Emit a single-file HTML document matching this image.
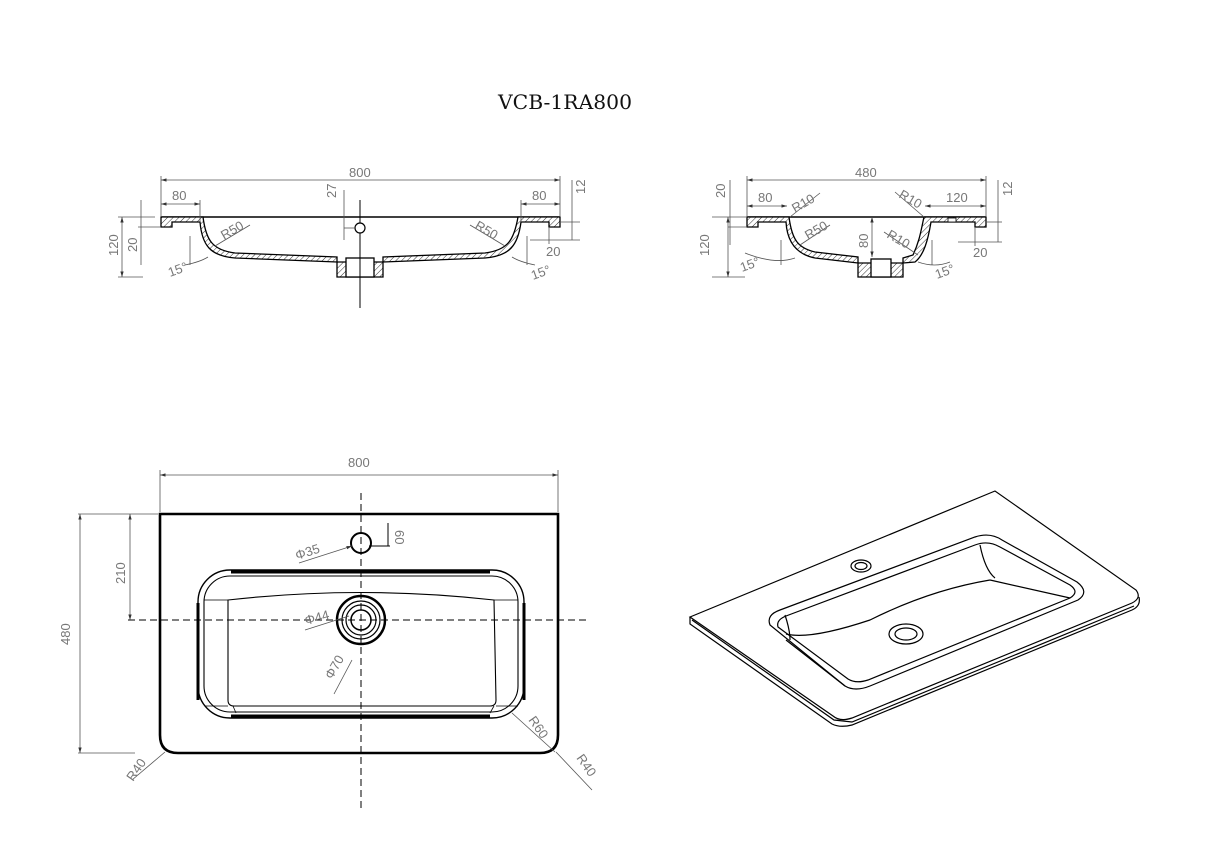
<!DOCTYPE html>
<html><head><meta charset="utf-8"><style>
html,body{margin:0;padding:0;background:#fff;}
svg{display:block;}
.t{font-family:"Liberation Sans",sans-serif;font-size:13px;fill:#777;}
.d{stroke:#555;stroke-width:0.8;fill:none;}
.k{stroke:#000;fill:none;}
</style></head><body>
<svg width="1207" height="859" viewBox="0 0 1207 859" xmlns="http://www.w3.org/2000/svg">
<defs>
<pattern id="h" width="4" height="4" patternUnits="userSpaceOnUse" patternTransform="rotate(45)">
<rect width="4" height="4" fill="#fff"/><line x1="0" y1="0" x2="0" y2="4" stroke="#333" stroke-width="1"/></pattern>
<marker id="a" viewBox="0 0 10 10" refX="10" refY="5" markerWidth="7" markerHeight="7" orient="auto-start-reverse"><path d="M0,2 L10,5 L0,8z" fill="#333"/></marker>
</defs>
<text x="498" y="109" font-family="DejaVu Serif,Liberation Serif,serif" font-size="20" fill="#111" textLength="134" lengthAdjust="spacingAndGlyphs">VCB-1RA800</text>

<!-- Section 1 -->
<g>
<line class="k" x1="161" y1="217" x2="560" y2="217" stroke-width="1.5"/>
<path d="M161,217 L203,217 C206,240 212,250 235,253 L337,257 L337,277 L383,277 L383,257 L485,253 C508,250 514,240 518,217 L560,217 L560,227 L549,227 L549,222 L521,222 C518,245 510,256 485,258 L383,262 L337,262 L235,258 C210,256 202,245 200,222 L172,222 L172,227 L161,227 Z" fill="url(#h)" stroke="#000" stroke-width="1.3"/>
<rect x="346" y="258" width="28" height="19" fill="#fff" stroke="#000" stroke-width="1.3"/>
<line class="k" x1="360" y1="200" x2="360" y2="308"/>
<circle cx="360" cy="228" r="5" fill="#fff" stroke="#000" stroke-width="1.2"/>
<line class="d" x1="161" y1="180" x2="560" y2="180" marker-start="url(#a)" marker-end="url(#a)"/>
<line class="d" x1="161" y1="176" x2="161" y2="217"/><line class="d" x1="560" y1="176" x2="560" y2="217"/>
<text class="t" x="349" y="177">800</text>
<line class="d" x1="161" y1="204" x2="200" y2="204" marker-start="url(#a)" marker-end="url(#a)"/>
<line class="d" x1="200" y1="200" x2="200" y2="222"/>
<text class="t" x="172" y="200">80</text>
<line class="d" x1="521" y1="204" x2="560" y2="204" marker-start="url(#a)" marker-end="url(#a)"/>
<line class="d" x1="521" y1="200" x2="521" y2="222"/>
<text class="t" x="532" y="200">80</text>
<line class="d" x1="344" y1="190" x2="344" y2="240"/><line class="d" x1="344" y1="228" x2="355" y2="228"/>
<text class="t" transform="translate(336,198) rotate(-90)">27</text>
<line class="d" x1="122" y1="217" x2="122" y2="277" marker-start="url(#a)" marker-end="url(#a)"/>
<line class="d" x1="118" y1="217" x2="155" y2="217"/><line class="d" x1="118" y1="277" x2="143" y2="277"/>
<text class="t" transform="translate(118,256) rotate(-90)">120</text>
<line class="d" x1="141" y1="200" x2="141" y2="265"/><line class="d" x1="138" y1="227" x2="161" y2="227"/>
<text class="t" transform="translate(137,252) rotate(-90)">20</text>
<line class="d" x1="572" y1="180" x2="572" y2="240"/><line class="d" x1="560" y1="222" x2="580" y2="222"/>
<text class="t" transform="translate(585,194) rotate(-90)">12</text>
<line class="d" x1="530" y1="240" x2="580" y2="240"/><line class="d" x1="549" y1="227" x2="549" y2="244"/>
<text class="t" x="546" y="256">20</text>
<line class="d" x1="215" y1="246" x2="250" y2="225"/><text class="t" transform="translate(224,240) rotate(-30)">R50</text>
<line class="d" x1="505" y1="246" x2="470" y2="225"/><text class="t" transform="translate(474,228) rotate(30)">R50</text>
<line class="d" x1="190" y1="236" x2="190" y2="265"/><path class="d" d="M185,265 Q200,262 208,257"/>
<text class="t" transform="translate(170,277) rotate(-20)">15°</text>
<line class="d" x1="527" y1="236" x2="527" y2="265"/><path class="d" d="M535,265 Q520,262 512,257"/>
<text class="t" transform="translate(533,280) rotate(-20)">15°</text>
</g>

<!-- Section 2 -->
<g>
<line class="k" x1="747" y1="217" x2="986" y2="217" stroke-width="1.5"/>
<path d="M747,217 L789,217 C792,240 798,248 815,252 L858,257 L858,277 L903,277 L903,258 L913,255 C920,240 921,230 924,217 L986,217 L986,227 L975,227 L975,222 L931,222 C928,240 924,255 915,262 L903,263 L858,263 L815,258 C795,254 787,240 786,222 L758,222 L758,227 L747,227 Z" fill="url(#h)" stroke="#000" stroke-width="1.3"/>
<rect x="871" y="259" width="20" height="18" fill="#fff" stroke="#000" stroke-width="1.3"/>
<rect x="948" y="218" width="8" height="4" fill="#fff" stroke="#000" stroke-width="0.8"/>
<line class="d" x1="747" y1="180" x2="986" y2="180" marker-start="url(#a)" marker-end="url(#a)"/>
<line class="d" x1="747" y1="176" x2="747" y2="217"/><line class="d" x1="986" y1="176" x2="986" y2="217"/>
<text class="t" x="855" y="177">480</text>
<line class="d" x1="747" y1="206" x2="787" y2="206" marker-start="url(#a)" marker-end="url(#a)"/>
<text class="t" x="758" y="202">80</text>
<line class="d" x1="925" y1="206" x2="986" y2="206" marker-start="url(#a)" marker-end="url(#a)"/>
<text class="t" x="946" y="202">120</text>
<line class="d" x1="872" y1="217" x2="872" y2="257" marker-start="url(#a)" marker-end="url(#a)"/>
<text class="t" transform="translate(868,248) rotate(-90)">80</text>
<line class="d" x1="728" y1="217" x2="728" y2="277" marker-start="url(#a)" marker-end="url(#a)"/>
<line class="d" x1="712" y1="277" x2="745" y2="277"/><line class="d" x1="712" y1="217" x2="747" y2="217"/>
<text class="t" transform="translate(709,256) rotate(-90)">120</text>
<line class="d" x1="730" y1="180" x2="730" y2="245"/><line class="d" x1="728" y1="227" x2="747" y2="227"/>
<text class="t" transform="translate(725,198) rotate(-90)">20</text>
<line class="d" x1="998" y1="180" x2="998" y2="242"/><line class="d" x1="986" y1="222" x2="1002" y2="222"/>
<text class="t" transform="translate(1012,196) rotate(-90)">12</text>
<line class="d" x1="958" y1="242" x2="1002" y2="242"/><line class="d" x1="975" y1="227" x2="975" y2="246"/>
<text class="t" x="973" y="257">20</text>
<line class="d" x1="790" y1="217" x2="820" y2="193"/><text class="t" transform="translate(795,213) rotate(-30)">R10</text>
<line class="d" x1="924" y1="217" x2="895" y2="192"/><text class="t" transform="translate(898,197) rotate(30)">R10</text>
<line class="d" x1="800" y1="245" x2="830" y2="225"/><text class="t" transform="translate(808,240) rotate(-30)">R50</text>
<line class="d" x1="918" y1="255" x2="884" y2="232"/><text class="t" transform="translate(886,237) rotate(30)">R10</text>
<line class="d" x1="781" y1="240" x2="781" y2="265"/><path class="d" d="M745,253 Q775,265 795,258"/>
<text class="t" transform="translate(742,272) rotate(-20)">15°</text>
<line class="d" x1="932" y1="240" x2="932" y2="265"/><path class="d" d="M918,262 Q935,268 950,262"/>
<text class="t" transform="translate(937,279) rotate(-20)">15°</text>
</g>

<!-- Plan view -->
<g>
<path d="M160,514 L558,514 L558,735 Q558,753 540,753 L178,753 Q160,753 160,735 Z" fill="none" stroke="#000" stroke-width="2.6"/>
<line class="d" x1="160" y1="475" x2="558" y2="475" marker-start="url(#a)" marker-end="url(#a)"/>
<line class="d" x1="160" y1="470" x2="160" y2="512"/><line class="d" x1="558" y1="470" x2="558" y2="512"/>
<text class="t" x="348" y="467">800</text>
<line x1="361" y1="493" x2="361" y2="812" stroke="#000" stroke-dasharray="7,4"/>
<line x1="128" y1="620" x2="590" y2="620" stroke="#000" stroke-dasharray="7,4"/>
<line class="d" x1="80" y1="514" x2="80" y2="753" marker-start="url(#a)" marker-end="url(#a)"/>
<line class="d" x1="78" y1="514" x2="158" y2="514"/><line class="d" x1="78" y1="753" x2="135" y2="753"/>
<text class="t" transform="translate(70,645) rotate(-90)">480</text>
<line class="d" x1="130" y1="514" x2="130" y2="620" marker-start="url(#a)" marker-end="url(#a)"/>
<text class="t" transform="translate(125,584) rotate(-90)">210</text>
<circle cx="361" cy="543" r="10" fill="none" stroke="#000" stroke-width="2"/>
<line class="d" x1="299" y1="563" x2="352" y2="546" marker-end="url(#a)"/>
<text class="t" transform="translate(297,560) rotate(-18)">Φ35</text>
<line class="k" x1="388" y1="523" x2="388" y2="546"/><line class="k" x1="369" y1="546" x2="390" y2="546"/>
<text class="t" transform="translate(395,530) rotate(90)">60</text>
<rect x="198" y="570" width="326" height="148" rx="32" fill="none" stroke="#000" stroke-width="1.4"/>
<rect x="204" y="576" width="314" height="136" rx="26" fill="none" stroke="#000" stroke-width="1.1"/>
<line x1="231" y1="572" x2="490" y2="572" stroke="#000" stroke-width="3"/>
<line x1="231" y1="716" x2="490" y2="716" stroke="#000" stroke-width="3"/>
<line x1="198" y1="603" x2="198" y2="700" stroke="#000" stroke-width="3"/>
<line x1="524" y1="603" x2="524" y2="700" stroke="#000" stroke-width="3"/>
<path d="M228,600 Q361,585 494,600 L496,700 Q496,706 490,706 L234,706 Q228,706 228,700 Z" fill="none" stroke="#000" stroke-width="1.1"/>
<path d="M228,600 L204,600 M494,600 L518,600 M228,706 L205,706 M496,706 L518,706 M236,713 L233,706 M490,713 L494,706" stroke="#000" stroke-width="0.8"/>
<circle cx="361" cy="620" r="24" fill="none" stroke="#000" stroke-width="2.5"/>
<circle cx="361" cy="620" r="19" fill="none" stroke="#000" stroke-width="1.2"/>
<circle cx="361" cy="620" r="15" fill="none" stroke="#000" stroke-width="1.2"/>
<circle cx="361" cy="620" r="10" fill="none" stroke="#000" stroke-width="1.5"/>
<line class="d" x1="305" y1="630" x2="349" y2="616"/>
<text class="t" transform="translate(306,625) rotate(-15)">Φ44</text>
<line class="d" x1="334" y1="694" x2="352" y2="660"/>
<text class="t" transform="translate(332,680) rotate(-60)">Φ70</text>
<line class="d" x1="512" y1="713" x2="555" y2="752"/><text class="t" transform="translate(528,720) rotate(55)">R60</text>
<line class="d" x1="132" y1="780" x2="165" y2="752"/><text class="t" transform="translate(133,782) rotate(-55)">R40</text>
<line class="d" x1="556" y1="752" x2="592" y2="790"/><text class="t" transform="translate(576,758) rotate(55)">R40</text>
</g>

<!-- Isometric -->
<g fill="none" stroke="#000" stroke-width="1.2">
<path d="M690,617 L995,491 L1136,590 Q1142,598 1132,603 L852,718 Q840,722 833,716 Z" fill="#fff"/>
<path d="M690,617 L690,624 L832,724 Q840,728 852,725 L1132,610 Q1141,606 1139,597"/>
<path d="M692,620 L834,720 L852,722 L1134,606"/>
<path d="M770,625 Q766,615 780,610 L975,537 Q990,532 1002,540 L1077,582 Q1090,592 1078,600 L870,686 Q855,692 845,686 Z"/>
<path d="M778,627 Q776,620 786,616 L975,545 Q988,540 1000,547 L1070,585 Q1080,592 1070,598 L868,680 Q856,684 848,679 Z"/>
<path d="M786,634 Q810,640 870,620 Q930,590 990,580"/>
<path d="M786,640 L845,686 M990,580 L1070,598 M980,545 Q985,570 995,578 M785,615 Q790,630 790,640"/>
<ellipse cx="861" cy="566" rx="10" ry="6"/><ellipse cx="861" cy="566" rx="6" ry="3.5"/>
<ellipse cx="906" cy="634" rx="17" ry="10"/><ellipse cx="906" cy="634" rx="11" ry="6"/>
</g>
</svg>
</body></html>
